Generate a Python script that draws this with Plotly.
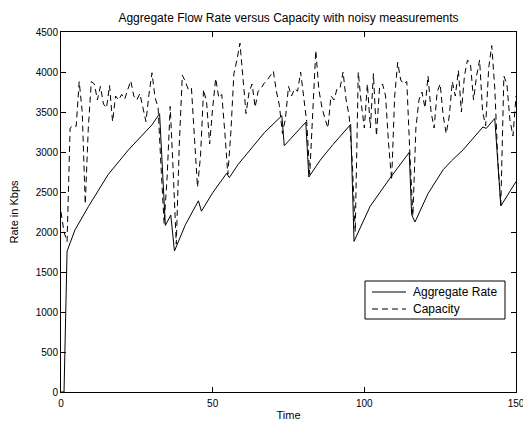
import plotly.graph_objects as go

# Aggregate rate (solid line) read at its corners / along curves
agg_time = [0, 1, 2, 4.6, 9.0, 15.5, 22.2, 26, 30, 32.5, 34.4, 36.2, 37.4, 41, 45.3, 46.3,
            50, 54.6, 55.5, 58.4, 62.3, 67, 72.8, 73.6, 80.7, 81.7, 85.5, 89.7, 95.5, 96.6,
            101.9, 108.5, 114.8, 115.6, 116.7, 121, 126.0, 128.7, 132.6, 139.1, 140.2, 143.0,
            145.0, 150]
agg_rate = [0, 0, 1760, 2025, 2316, 2716, 3025, 3180, 3340, 3480, 2083, 2212, 1762, 2090, 2390, 2260,
            2490, 2733, 2680, 2845, 3029, 3240, 3454, 3079, 3372, 2687, 2900, 3095, 3345, 1883,
            2320, 2675, 2995, 2216, 2125, 2480, 2779, 2888, 3029, 3313, 3295, 3420,
            2325, 2630]

# Capacity (dashed) at each time step 0..150
cap_time = list(range(0, 151))
cap_rate = [2250, 2000, 1880, 3300, 3330, 3320, 3880, 3500, 2350, 3300,
            3880, 3850, 3650, 3820, 3600, 3550, 3830, 3380, 3700, 3650,
            3720, 3660, 3780, 3890, 3700, 3650, 3730, 3550, 3380, 3720,
            3990, 3680, 3560, 2800, 2100, 2700, 3570, 2750, 1850, 3100,
            3960, 3880, 3780, 3800, 3150, 2560, 2950, 3780, 3620, 3100,
            3550, 3920, 3680, 3720, 3250, 2720, 3250, 3980, 4150, 4360,
            3920, 3480, 3750, 3850, 3560, 3760, 3800, 3860, 3900, 3950,
            4010, 3760, 3580, 3230, 3420, 3820, 3700, 3790, 3760, 4000,
            3650, 3380, 2720, 3600, 4270, 3780, 3560, 3420, 3300, 3700,
            3650, 3790, 3800, 4000, 3650, 3450, 2900, 2000, 4000, 3600,
            3300, 3850, 3300, 3980, 3200, 3800, 3850, 3700, 3100, 2650,
            3700, 4120, 3900, 3850, 3880, 3000, 2200, 3300, 3650, 3750,
            3550, 3950, 3500, 3300, 3750, 3850, 3450, 3230, 3450, 3880,
            3700, 4020, 3500, 3950, 4150, 4100, 3650, 3950, 4150, 3500,
            3330, 4050, 4330, 3800, 2900, 2340, 3950, 3850, 3400, 3200,
            3700]

x_ticks = [0, 50, 100, 150]
y_ticks = [0, 500, 1000, 1500, 2000, 2500, 3000, 3500, 4000, 4500]
series_names = ["Aggregate Rate", "Capacity"]

FONT = "Liberation Sans, Arial, Helvetica, sans-serif"
OFF = 8  # page body margin: figure is drawn 8px in from the window corner
W, H = 531 - OFF, 421 - OFF
L, R, T, B = 61 - OFF, 15, 32 - OFF, 29
PW, PH = W - L - R, H - T - B


def px_to_paper(px, py):
    # px, py given in window pixels
    return (px - OFF - L) / PW, (H - B - (py - OFF)) / PH


fig = go.Figure()
fig.add_trace(go.Scatter(x=agg_time, y=agg_rate, mode="lines", name=series_names[0],
                         line=dict(color="black", width=1), showlegend=False))
fig.add_trace(go.Scatter(x=cap_time, y=cap_rate, mode="lines", name=series_names[1],
                         line=dict(color="black", width=1, dash="6px,4px"), showlegend=False))

axis_common = dict(showline=True, linecolor="black", linewidth=1, mirror="ticks",
                   ticks="inside", ticklen=5, tickcolor="black", showgrid=False,
                   zeroline=False, automargin=False,
                   tickfont=dict(family=FONT, size=10, color="black"))

fig.update_xaxes(range=[0, 150], tickvals=x_ticks, ticktext=[str(v) for v in x_ticks],
                 ticklabelstandoff=2,
                 title=dict(text="Time", font=dict(family=FONT, size=11, color="black"), standoff=5),
                 **axis_common)
fig.update_yaxes(range=[0, 4500], tickvals=y_ticks, ticktext=[str(v) for v in y_ticks],
                 title=dict(text="Rate in Kbps", font=dict(family=FONT, size=11, color="black"), standoff=18),
                 **axis_common)

# Legend box drawn MATLAB-style
bx0, by0 = px_to_paper(365, 319)
bx1, by1 = px_to_paper(505, 281)
shapes = [dict(type="rect", xref="paper", yref="paper", x0=bx0, y0=by0, x1=bx1, y1=by1,
               line=dict(color="black", width=1), fillcolor="white", layer="above")]
annotations = []
for i, (name, dash) in enumerate(zip(series_names, ["solid", "6px,4px"])):
    py = 292 + i * 17
    sx0, sy = px_to_paper(372, py)
    sx1, _ = px_to_paper(406, py)
    shapes.append(dict(type="line", xref="paper", yref="paper", x0=sx0, x1=sx1, y0=sy, y1=sy,
                       line=dict(color="black", width=1, dash=dash), layer="above"))
    tx, _ = px_to_paper(411, py)
    annotations.append(dict(text=name, xref="paper", yref="paper", x=tx, y=sy,
                            xanchor="left", yanchor="middle", showarrow=False,
                            font=dict(family=FONT, size=12, color="black")))

fig.update_layout(
    width=W, height=H,
    margin=dict(l=L, r=R, t=T, b=B),
    paper_bgcolor="white", plot_bgcolor="white",
    title=dict(text="Aggregate Flow Rate versus Capacity with noisy measurements",
               x=(L + PW / 2) / W, xanchor="center", y=1 - (18 - OFF) / H, yanchor="middle",
               font=dict(family=FONT, size=12, color="black")),
    shapes=shapes,
    annotations=annotations,
    showlegend=False,
)

fig.write_html("out.html")
